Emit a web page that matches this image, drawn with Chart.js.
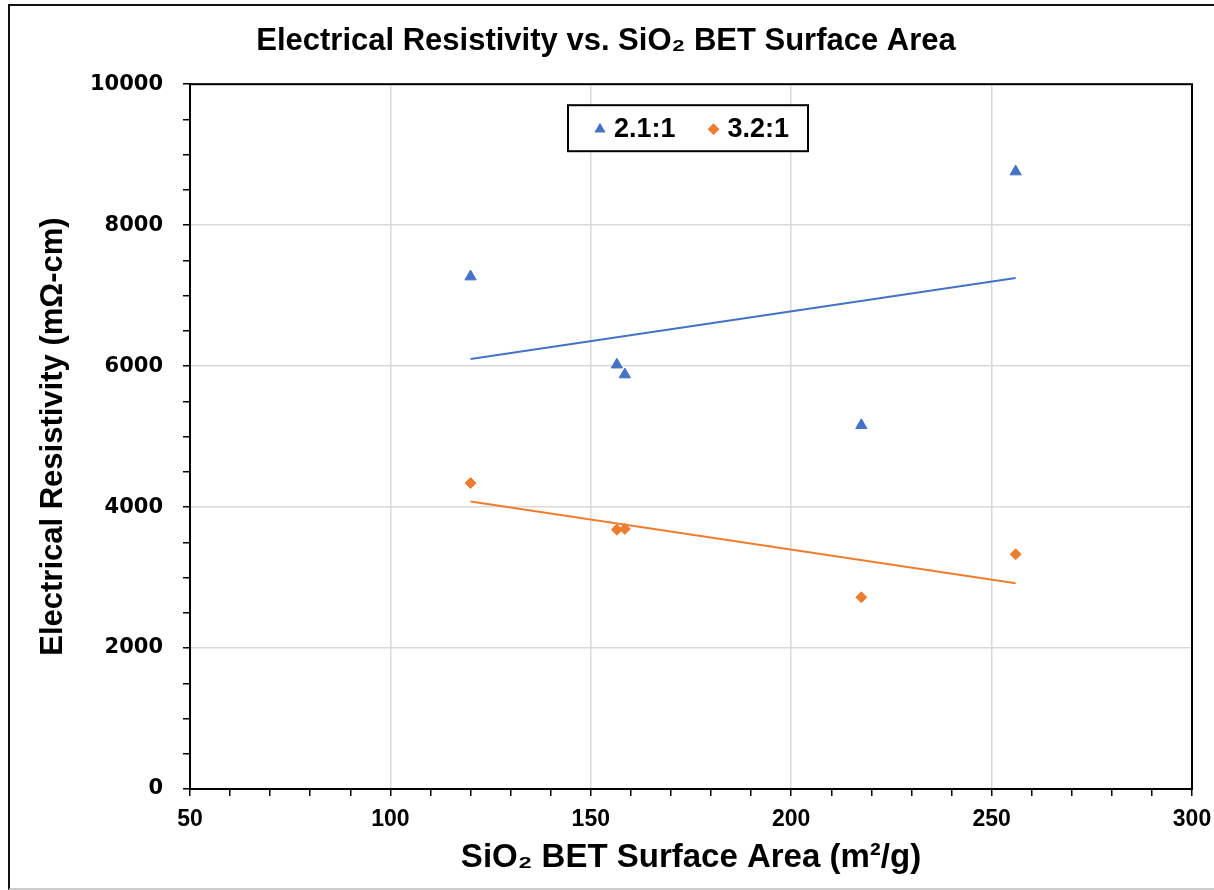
<!DOCTYPE html>
<html>
<head>
<meta charset="utf-8">
<script src="https://cdn.jsdelivr.net/npm/chart.js@4/dist/chart.umd.min.js"></script>
<style>
  body { margin: 0; background: #fff; }
  #wrap { position: relative; width: 1214px; height: 890px; overflow: hidden; }
  #frame { position: absolute; left: 8px; top: 4px; width: 1220px; height: 882px;
           border-left: 2px solid #111; border-top: 2px solid #111; border-bottom: 2px solid #ccc;
           pointer-events: none; }
</style>
</head>
<body>
<div id="wrap">
  <canvas id="chartCanvasId" width="1214" height="890"></canvas>
  <div id="frame"></div>
</div>
<script>
"use strict";

// data
const surfaceArea   = [120, 156.5, 158.5, 217.5, 256]     // m2/g
const resist21      = [7270, 6020, 5880, 5160, 8760]      // 2.1:1
const resist32      = [4340, 3680, 3690, 2720, 3330]      // 3.2:1
const trendX        = [120, 256]
const trend21       = [6100, 7250]
const trend32       = [4080, 2920]
const seriesNames   = ["2.1:1", "3.2:1"]
const xTicks        = [50, 100, 150, 200, 250, 300]
const yTicks        = [0, 2000, 4000, 6000, 8000, 10000]

const blue   = '#4472C4'
const orange = '#ED7D31'
const grid   = '#d9d9d9'
const bold   = "'Liberation Sans', Arial, sans-serif"

function toPoints(xs, ys) {
    return xs.map((x, i) => ({ x: x, y: ys[i] }))
}

// frame round the plot area (top and right sides)
const plotFrame = {
    id: 'plotFrame',
    afterDatasetsDraw(chart) {
        const a = chart.chartArea
        const ctx = chart.ctx
        ctx.save()
        ctx.strokeStyle = '#000'
        ctx.lineWidth = 2
        ctx.strokeRect(a.left, a.top, a.right - a.left, a.bottom - a.top)
        ctx.restore()
    }
}

// boxed legend inside the plot area
const boxLegend = {
    id: 'boxLegend',
    afterDraw(chart) {
        const a = chart.chartArea
        const ctx = chart.ctx
        const markers = [
            { style: 'triangle', color: blue,   r: 4.5 },
            { style: 'rectRot',  color: orange, r: 4.5 }
        ]
        ctx.save()
        ctx.font = "bold 27px " + bold
        const w = 240, h = 46
        const left = (a.left + a.right) / 2 - w / 2 - 3
        const top = a.top + 21
        ctx.fillStyle = '#fff'
        ctx.fillRect(left, top, w, h)
        ctx.strokeStyle = '#000'
        ctx.lineWidth = 2
        ctx.strokeRect(left, top, w, h)
        let x = left + 32
        const y = top + h / 2 + 1
        seriesNames.forEach((name, i) => {
            const m = markers[i]
            ctx.fillStyle = m.color
            ctx.strokeStyle = m.color
            Chart.helpers.drawPoint(ctx, { pointStyle: m.style, radius: m.r, rotation: 0, borderWidth: 1 }, x, y)
            ctx.fillStyle = '#000'
            ctx.textAlign = 'left'
            ctx.textBaseline = 'middle'
            ctx.fillText(name, x + 14, y)
            x += 14 + ctx.measureText(name).width + 38
        })
        ctx.restore()
    }
}

const chartCanvas  = document.getElementById('chartCanvasId')
const chartContext = chartCanvas.getContext('2d')

const myChart = new Chart(chartContext, {
    type: 'scatter',
    data: {
        datasets: [
            {
                label: seriesNames[0],
                data: toPoints(surfaceArea, resist21),
                pointStyle: 'triangle',
                pointRadius: 6.5,
                backgroundColor: blue,
                borderColor: blue,
                borderWidth: 1
            },
            {
                label: seriesNames[1],
                data: toPoints(surfaceArea, resist32),
                pointStyle: 'rectRot',
                pointRadius: 5.5,
                backgroundColor: orange,
                borderColor: orange,
                borderWidth: 1
            },
            {
                label: 'trend 2.1:1',
                data: toPoints(trendX, trend21),
                showLine: true,
                pointRadius: 0,
                borderColor: blue,
                borderWidth: 2
            },
            {
                label: 'trend 3.2:1',
                data: toPoints(trendX, trend32),
                showLine: true,
                pointRadius: 0,
                borderColor: orange,
                borderWidth: 2
            }
        ]
    },
    options: {
        responsive: false,
        animation: false,
        layout: { padding: { left: 20, right: 22, top: 0, bottom: 0 } },
        plugins: {
            legend: { display: false },
            tooltip: { enabled: false },
            title: {
                display: true,
                text: 'Electrical Resistivity vs. SiO\u2082 BET Surface Area',
                color: '#000',
                font: { family: bold, size: 31, weight: 'bold' },
                padding: { top: 23, bottom: 24 }
            }
        },
        scales: {
            x: {
                type: 'linear',
                min: xTicks[0],
                max: xTicks[xTicks.length - 1],
                afterFit: (scale) => {
                    scale.height = 101
                    scale.paddingLeft = 0
                    scale.paddingRight = 0
                },
                afterBuildTicks: (scale) => {
                    const t = []
                    for (let v = scale.min; v <= scale.max; v += 10) t.push({ value: v })
                    scale.ticks = t
                },
                ticks: {
                    autoSkip: false,
                    maxRotation: 0,
                    padding: 10,
                    color: '#000',
                    font: { family: bold, size: 23, weight: 'bold' },
                    callback: (v) => xTicks.includes(v) ? String(v) : ''
                },
                grid: {
                    color: (c) => xTicks.includes(c.tick && c.tick.value) ? grid : 'rgba(0,0,0,0)',
                    tickColor: '#000',
                    tickLength: 7,
                    lineWidth: 1.5,
                    tickWidth: 1.5
                },
                border: { color: '#000', width: 2 },
                title: {
                    display: true,
                    text: 'SiO\u2082 BET Surface Area (m\u00b2/g)',
                    color: '#000',
                    font: { family: bold, size: 33, weight: 'bold' },
                    padding: { top: 0, bottom: 12 }
                }
            },
            y: {
                type: 'linear',
                min: yTicks[0],
                max: yTicks[yTicks.length - 1],
                afterFit: (scale) => { scale.width = 170 },
                afterBuildTicks: (scale) => {
                    const t = []
                    for (let v = scale.min; v <= scale.max; v += 500) t.push({ value: v })
                    scale.ticks = t
                },
                ticks: {
                    autoSkip: false,
                    padding: 20,
                    color: '#000',
                    font: { family: "'DejaVu Sans', sans-serif", size: 21, weight: 'bold' },
                    callback: (v) => yTicks.includes(v) ? String(v) : ''
                },
                grid: {
                    color: (c) => yTicks.includes(c.tick && c.tick.value) ? grid : 'rgba(0,0,0,0)',
                    tickColor: '#000',
                    tickLength: 7,
                    lineWidth: 1.5,
                    tickWidth: 1.5
                },
                border: { color: '#000', width: 2 },
                title: {
                    display: true,
                    text: 'Electrical Resistivity (m\u03a9-cm)',
                    color: '#000',
                    font: { family: bold, size: 31, weight: 'bold' },
                    padding: { top: 15, bottom: 0 }
                }
            }
        }
    },
    plugins: [plotFrame, boxLegend]
})
</script>
</body>
</html>
